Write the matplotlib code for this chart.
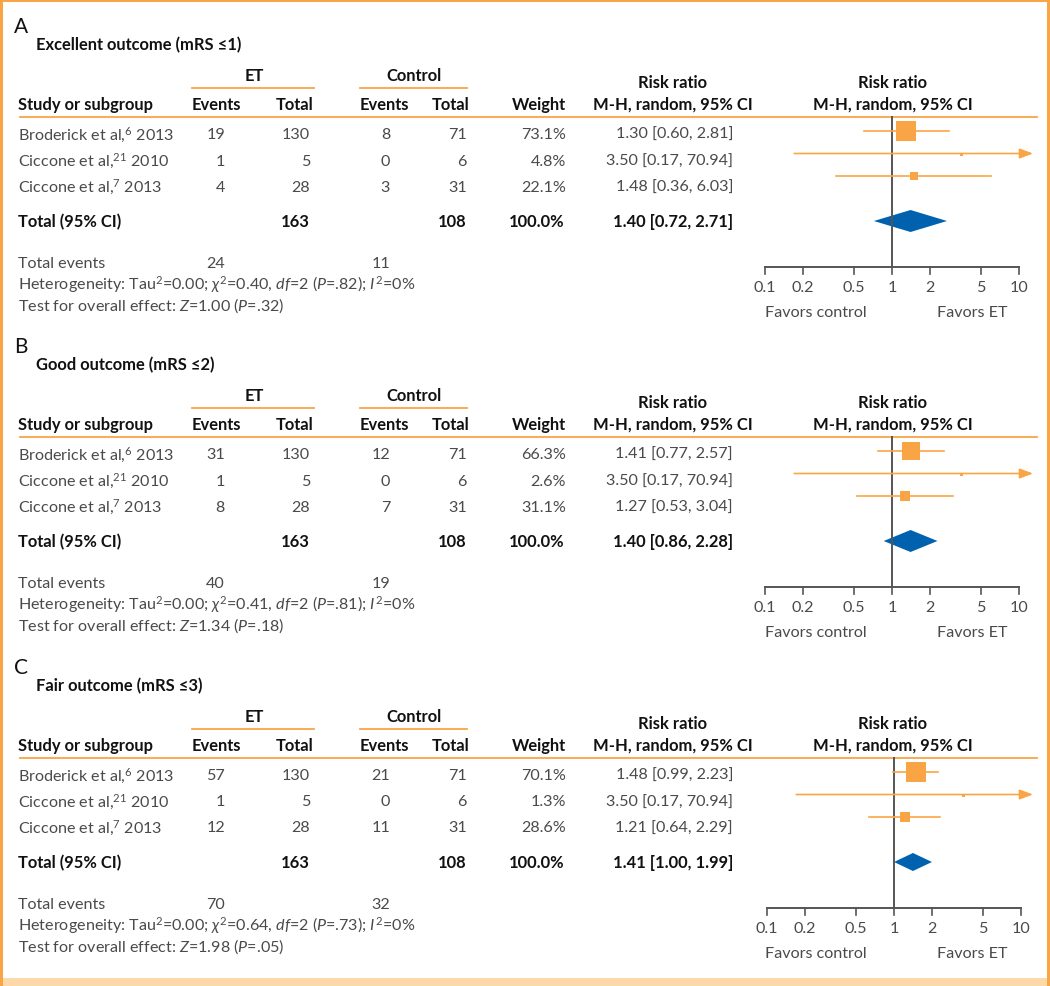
import numpy as np
import matplotlib
matplotlib.use("Agg")
import matplotlib.pyplot as plt
from matplotlib.patches import Rectangle

plt.rcParams['font.family'] = ['Lato', 'DejaVu Sans']
plt.rcParams['mathtext.fontset'] = 'custom'
plt.rcParams['mathtext.rm'] = 'Lato'
plt.rcParams['mathtext.it'] = 'Lato:italic'
plt.rcParams['mathtext.bf'] = 'Lato:bold'

# --- data ---
panel_letters = ['A', 'B', 'C']
panel_titles = ['Excellent outcome (mRS ≤1)', 'Good outcome (mRS ≤2)', 'Fair outcome (mRS ≤3)']
studies = [r'Broderick et al,$^{6}$ 2013', r'Ciccone et al,$^{21}$ 2010', r'Ciccone et al,$^{7}$ 2013']
et_events = [[19, 1, 4], [31, 1, 8], [57, 1, 12]]
et_total = [130, 5, 28]
ctrl_events = [[8, 0, 3], [12, 0, 7], [21, 0, 11]]
ctrl_total = [71, 6, 31]
weights = [[73.1, 4.8, 22.1], [66.3, 2.6, 31.1], [70.1, 1.3, 28.6]]
rr = [[1.30, 3.50, 1.48], [1.41, 3.50, 1.27], [1.48, 3.50, 1.21]]
rr_lo = [[0.60, 0.17, 0.36], [0.77, 0.17, 0.53], [0.99, 0.17, 0.64]]
rr_hi = [[2.81, 70.94, 6.03], [2.57, 70.94, 3.04], [2.23, 70.94, 2.29]]
tot_rr = [1.40, 1.40, 1.41]
tot_lo = [0.72, 0.86, 1.00]
tot_hi = [2.71, 2.28, 1.99]
tot_et_events = [24, 40, 70]
tot_ctrl_events = [11, 19, 32]
chi2 = ['0.40', '0.41', '0.64']
het_p = ['.82', '.81', '.73']
z_val = ['1.00', '1.34', '1.98']
z_p = ['.32', '.18', '.05']
ticks = [0.1, 0.2, 0.5, 1, 2, 5, 10]
tick_labels = ['0.1', '0.2', '0.5', '1', '2', '5', '10']

# --- style ---
W, H = 1050, 987
ORANGE = '#F9A546'
BLUE = '#0062AE'
DARK = '#111111'
GRAY = '#4a4a4a'
AXC = '#555555'
FS = 11.6      # regular text
FSB = 11.9     # bold text
offsets = [0, 320, 641]
one_px = [892, 892, 894]   # pixel x of RR = 1
decade = 127.0             # pixels per decade
dia_half = [11, 11, 9]

fig = plt.figure(figsize=(W / 100, H / 100), dpi=100)
ax = fig.add_axes([0, 0, 1, 1])
ax.set_xlim(0, W)
ax.set_ylim(H, 0)
ax.axis('off')

# frame
ax.add_patch(Rectangle((0, 979), W, 8, color='#FDD9AA', lw=0))
ax.add_patch(Rectangle((0, 0), 3, H, color=ORANGE, lw=0))
ax.add_patch(Rectangle((0, 0), W, 2.5, color=ORANGE, lw=0))
ax.add_patch(Rectangle((1047, 0), 3, H, color=ORANGE, lw=0))


def t(x, y, s, ha='left', bold=False, color=None, size=None):
    if size is None:
        size = FSB if bold else FS
    ax.text(x, y, s, ha=ha, va='center', fontsize=size,
            fontweight='bold' if bold else 'normal',
            color=color or (DARK if bold else GRAY))


for p in range(3):
    o = offsets[p]
    t(14, 27 + o, panel_letters[p], color=DARK, size=15)
    t(36, 45 + o, panel_titles[p], bold=True)

    # group headers
    t(254, 76 + o, 'ET', ha='center', bold=True)
    t(414, 76 + o, 'Control', ha='center', bold=True)
    ax.plot([192, 314], [89 + o, 89 + o], color=ORANGE, lw=1.3)
    ax.plot([360, 467], [89 + o, 89 + o], color=ORANGE, lw=1.3)
    t(673, 83 + o, 'Risk ratio', ha='center', bold=True)
    t(893, 83 + o, 'Risk ratio', ha='center', bold=True)

    hy = 105 + o
    t(18, hy, 'Study or subgroup', bold=True)
    t(216, hy, 'Events', ha='center', bold=True)
    t(314, hy, 'Total', ha='right', bold=True)
    t(384, hy, 'Events', ha='center', bold=True)
    t(469, hy, 'Total', ha='right', bold=True)
    t(566, hy, 'Weight', ha='right', bold=True)
    t(673, hy, 'M-H, random, 95% CI', ha='center', bold=True)
    t(893, hy, 'M-H, random, 95% CI', ha='center', bold=True)
    ax.plot([20, 1037], [118 + o, 118 + o], color=ORANGE, lw=1.3)

    row_y = [135, 161.5, 187.5]
    for i in range(3):
        y = row_y[i] + o
        t(18, y, studies[i])
        t(225, y, str(et_events[p][i]), ha='right')
        t(310, y, str(et_total[i]), ha='right')
        t(390, y, str(ctrl_events[p][i]), ha='right')
        t(467, y, str(ctrl_total[i]), ha='right')
        t(566, y, f'{weights[p][i]:.1f}%', ha='right')
        t(733, y, f'{rr[p][i]:.2f} [{rr_lo[p][i]:.2f}, {rr_hi[p][i]:.2f}]', ha='right')

    y = 222 + o
    t(18, y, 'Total (95% CI)', bold=True)
    t(310, y, str(sum(et_total)), ha='right', bold=True)
    t(466, y, str(sum(ctrl_total)), ha='right', bold=True)
    t(564, y, '100.0%', ha='right', bold=True)
    t(733, y, f'{tot_rr[p]:.2f} [{tot_lo[p]:.2f}, {tot_hi[p]:.2f}]', ha='right', bold=True)

    t(18, 264 + o, 'Total events')
    t(225, 264 + o, str(tot_et_events[p]), ha='right')
    t(390, 264 + o, str(tot_ctrl_events[p]), ha='right')
    t(18, 285 + o, r'Heterogeneity: Tau$^{2}$=0.00; $\chi^{2}$=' + chi2[p]
      + r', $df$=2 ($P$=' + het_p[p] + r'); $I^{2}$=0%')
    t(18, 306 + o, r'Test for overall effect: $Z$=' + z_val[p] + r' ($P$=' + z_p[p] + ')')

    # forest plot: a transparent log-x axes laid over the whole figure
    fa = fig.add_axes([0, 0, 1, 1])
    fa.set_xscale('log')
    fa.set_xlim(10 ** ((0 - one_px[p]) / decade), 10 ** ((W - one_px[p]) / decade))
    fa.set_ylim(H, 0)
    fa.axis('off')
    fa.patch.set_alpha(0)

    axis_y = 268 + o
    fa.plot([1, 1], [118 + o, axis_y], color=AXC, lw=1.4)
    fa.plot([0.1, 10], [axis_y, axis_y], color=AXC, lw=1.4)
    for tv, tl in zip(ticks, tick_labels):
        fa.plot([tv, tv], [axis_y, axis_y + 7], color=AXC, lw=1.2)
        fa.text(tv, 288 + o, tl, ha='center', va='center', fontsize=FS, color=GRAY)
    fa.text(10 ** ((816 - one_px[p]) / decade), 313 + o, 'Favors control',
            ha='center', va='center', fontsize=FS, color=GRAY)
    fa.text(10 ** ((972 - one_px[p]) / decade), 313 + o, 'Favors ET',
            ha='center', va='center', fontsize=FS, color=GRAY)

    mark_y = [132, 154.5, 177]
    x_end = 10 ** ((1033 - one_px[p]) / decade)
    for i in range(3):
        y = mark_y[i] + o
        if rr_hi[p][i] > 10:
            fa.annotate('', xy=(x_end, y), xytext=(rr_lo[p][i], y),
                        arrowprops=dict(arrowstyle='-|>,head_length=0.8,head_width=0.3',
                                        color=ORANGE, lw=1.2, shrinkA=0, shrinkB=0,
                                        mutation_scale=10))
        else:
            fa.plot([rr_lo[p][i], rr_hi[p][i]], [y, y], color=ORANGE, lw=1.2)
        side = max(3.0, 0.9 * weights[p][i] ** 0.72)
        fa.plot(rr[p][i], y, marker='s', markersize=side * 0.72, color=ORANGE,
                markeredgewidth=0)

    dy = 222 + o
    h = dia_half[p]
    fa.fill([tot_lo[p], tot_rr[p], tot_hi[p], tot_rr[p]], [dy, dy - h, dy, dy + h],
            color=BLUE, lw=0)

fig.savefig('out.png', dpi=100)
